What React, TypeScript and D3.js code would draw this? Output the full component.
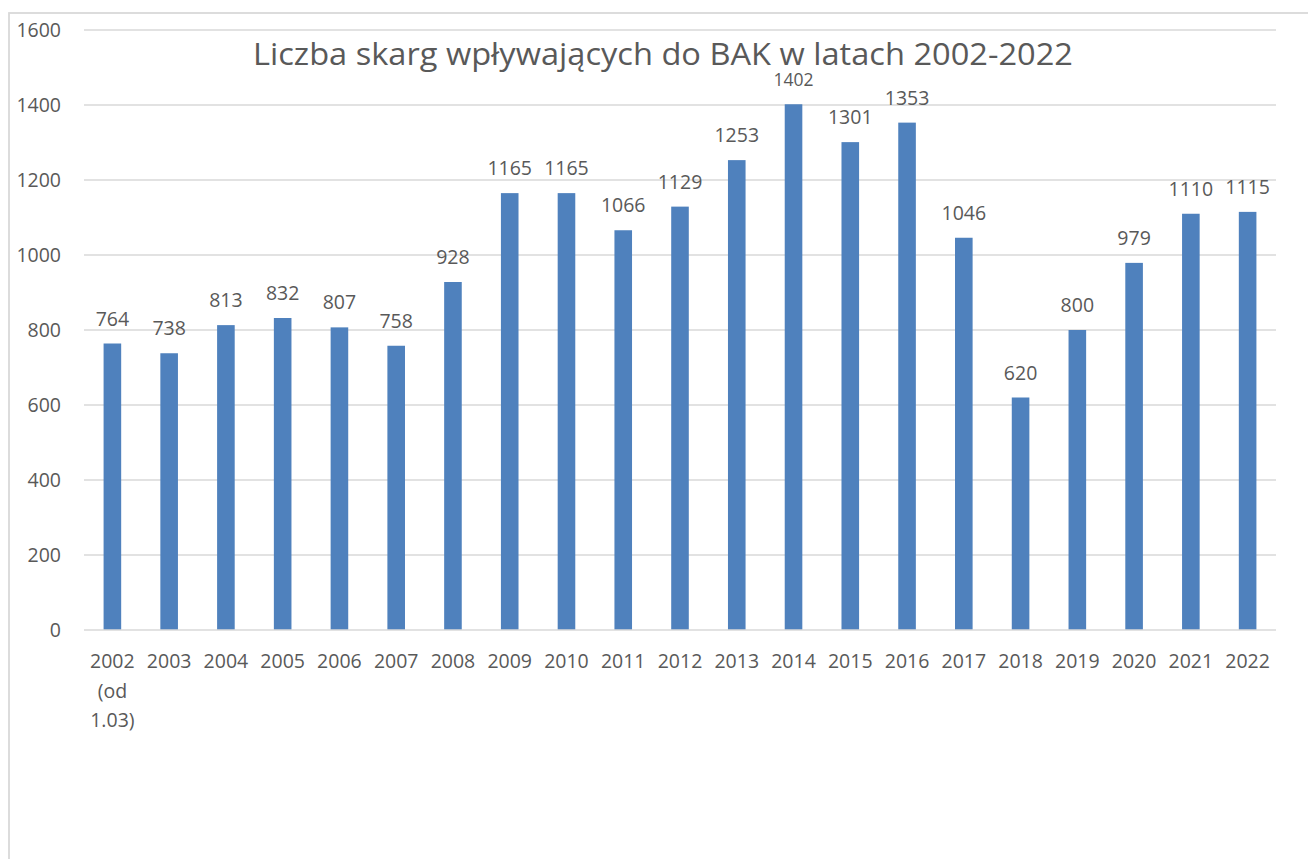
import React from "react";
import * as d3 from "d3";

const years = ["2002 (od 1.03)", "2003", "2004", "2005", "2006", "2007", "2008", "2009", "2010", "2011", "2012", "2013", "2014", "2015", "2016", "2017", "2018", "2019", "2020", "2021", "2022"];
const complaints = [764, 738, 813, 832, 807, 758, 928, 1165, 1165, 1066, 1129, 1253, 1402, 1301, 1353, 1046, 620, 800, 979, 1110, 1115];
const yTicks = [0, 200, 400, 600, 800, 1000, 1200, 1400, 1600];
const titleText = "Liczba skarg wpływających do BAK w latach 2002-2022";

const W = 1308;
const H = 859;
const FONT = "'Open Sans', 'Noto Sans', sans-serif";
const TEXT = "#595959";
const GRID = "#D9D9D9";
const BAR = "#4F81BD";

function wrapLabel(s: string): string[] {
  if (s.startsWith("2002")) return ["2002", "(od", "1.03)"];
  return [s];
}

export default function App() {
  const x = d3.scaleBand<string>().domain(years).range([84, 1276]).paddingInner(0.69).paddingOuter(0.345);
  const y = d3.scaleLinear().domain([0, 1600]).range([630, 30]);
  const maxV = d3.max(complaints)!;

  return (
    <svg
      width={W}
      height={H}
      style={{ position: "absolute", left: 0, top: 0, display: "block", background: "#fff" }}
      fontFamily={FONT}
    >
      <rect x={9} y={13} width={W + 20} height={H + 20} fill="#fff" stroke={GRID} strokeWidth={1.8} />
      {yTicks.map((t) => (
        <g key={t}>
          {t > 0 && <line x1={84} x2={1276} y1={y(t)} y2={y(t)} stroke={GRID} strokeWidth={1.3} />}
          <text x={61} y={y(t) + 7} textAnchor="end" fontSize={19.5} fill={TEXT}>
            {t}
          </text>
        </g>
      ))}
      {years.map((yr, i) => (
        <rect
          key={yr}
          x={x(yr)!}
          y={y(complaints[i])}
          width={x.bandwidth()}
          height={y(0) - y(complaints[i])}
          fill={BAR}
        />
      ))}
      <line x1={84} x2={1276} y1={y(0)} y2={y(0)} stroke={GRID} strokeWidth={1.5} />
      {years.map((yr, i) => (
        <text
          key={"l" + yr}
          x={x(yr)! + x.bandwidth() / 2}
          y={y(complaints[i]) - 18}
          textAnchor="middle"
          fontSize={complaints[i] === maxV ? 17.5 : 19.5}
          fill={TEXT}
        >
          {complaints[i]}
        </text>
      ))}
      {years.map((yr) => (
        <text key={"x" + yr} textAnchor="middle" fontSize={19.5} fill={TEXT}>
          {wrapLabel(yr).map((line, j) => (
            <tspan key={j} x={x(yr)! + x.bandwidth() / 2} y={668 + j * 29.5}>
              {line}
            </tspan>
          ))}
        </text>
      ))}
      <text x={663} y={65} textAnchor="middle" fontSize={30.5} fill={TEXT} textLength={820} lengthAdjust="spacingAndGlyphs">
        {titleText}
      </text>
    </svg>
  );
}
